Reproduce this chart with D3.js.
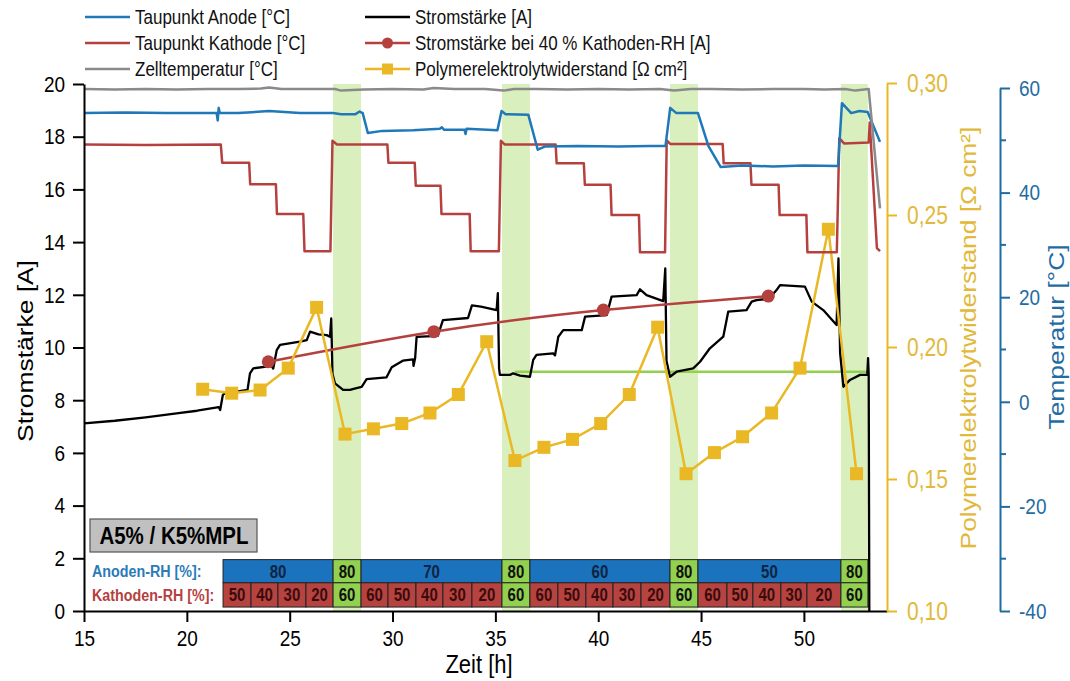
<!DOCTYPE html>
<html>
<head>
<meta charset="utf-8">
<script src="https://cdn.jsdelivr.net/npm/d3@7/dist/d3.min.js"></script>
<style>
  body { margin: 0; background: #fff; }
  svg { display: block; }
  text { font-family: "Liberation Sans", Arial, sans-serif; }
</style>
</head>
<body>
<svg id="chart" width="1070" height="681"></svg>
<script>
// ---- data -------------------------------------------------------------
// time axis ticks [h]
const zeitTicks = [15, 20, 25, 30, 35, 40, 45, 50];
const stromTicks = [0, 2, 4, 6, 8, 10, 12, 14, 16, 18, 20];
const widerstandTicks = [0.10, 0.15, 0.20, 0.25, 0.30];
const temperaturTicks = [-40, -20, 0, 20, 40, 60];
const temperaturMinorTicks = [-30, -10, 10, 30, 50];

// purge phases (cathode 60 % / anode 80 %) [h]
const spuelStart = [27.11, 35.32, 43.49, 51.80];
const spuelEnde  = [28.47, 36.68, 44.85, 53.11];

// humidity table
const anodenStart = [21.76, 27.11, 28.47, 35.32, 36.68, 43.49, 44.85, 51.80];
const anodenEnde  = [27.11, 28.47, 35.32, 36.68, 43.49, 44.85, 51.80, 53.11];
const anodenRH    = ["80", "80", "70", "80", "60", "80", "50", "80"];
const kathodenGrenzen = [21.76, 23.12, 24.43, 25.79, 27.11, 28.47, 29.78, 31.14, 32.45, 33.86,
  35.32, 36.68, 38.04, 39.40, 40.72, 42.08, 43.49, 44.85, 46.26, 47.52, 48.88, 50.15, 51.80, 53.11];
const kathodenRH = ["50", "40", "30", "20", "60",
  "60", "50", "40", "30", "20", "60",
  "60", "50", "40", "30", "20", "60",
  "60", "50", "40", "30", "20", "60"];

// cell temperature [h, °C]
const zelltemperatur = [
  [15.0, 59.8], [16.5, 59.7], [18.0, 59.8], [19.5, 59.7], [21.0, 59.8], [22.5, 59.8],
  [23.6, 59.9], [24.0, 60.1], [24.6, 59.8], [26.0, 59.8], [27.2, 59.8], [27.5, 59.5],
  [28.6, 59.7], [30.0, 59.8], [31.5, 59.7], [32.0, 60.0], [33.0, 59.8], [34.5, 59.8],
  [35.4, 59.5], [35.9, 59.8], [37.0, 59.8], [38.5, 59.7], [40.0, 59.8], [41.5, 59.7],
  [43.0, 59.8], [43.7, 59.5], [44.5, 59.8], [45.5, 59.8], [47.0, 59.7], [48.5, 59.8],
  [50.0, 59.8], [51.0, 59.7], [52.0, 59.8], [52.5, 59.5], [53.15, 59.8], [53.7, 37.0]
];

// anode dew point [h, °C]
const taupunktAnode = [
  [15.0, 55.2], [17.0, 55.3], [19.0, 55.2], [21.45, 55.2], [21.5, 53.8], [21.55, 56.2],
  [21.6, 55.2], [22.5, 55.2], [24.0, 55.6], [25.5, 55.2], [27.1, 55.2], [27.5, 55.0],
  [28.2, 55.0], [28.4, 55.5], [28.55, 55.2], [28.8, 51.4], [29.5, 51.8], [31.0, 51.9],
  [32.3, 52.2], [32.4, 52.5], [32.5, 52.0], [33.5, 52.0], [33.55, 51.2], [33.6, 52.2],
  [35.1, 51.9], [35.3, 55.6], [35.5, 55.0], [36.6, 54.9], [37.06, 48.2], [37.4, 48.8],
  [39.0, 48.9], [41.0, 48.8], [42.5, 48.9], [43.27, 48.9], [43.5, 56.2], [43.8, 55.2],
  [44.85, 55.2], [45.36, 48.9], [45.95, 44.9], [47.0, 45.2], [48.5, 45.0], [50.0, 45.2],
  [51.66, 45.1], [51.85, 57.1], [52.3, 55.2], [52.7, 55.6], [53.1, 55.4], [53.7, 49.7]
];

// cathode dew point [h, °C]
const taupunktKathode = [
  [15.0, 49.2], [18.0, 49.1], [21.65, 49.2], [21.72, 45.7], [23.03, 45.7], [23.08, 41.6],
  [24.33, 41.6], [24.38, 35.9], [25.66, 35.9], [25.72, 28.8], [26.98, 28.8], [27.08, 49.9],
  [27.3, 49.2], [29.75, 49.2], [29.8, 45.7], [31.08, 45.7], [31.13, 41.3], [32.33, 41.3],
  [32.38, 35.9], [33.75, 35.9], [33.8, 28.8], [35.17, 28.8], [35.27, 49.9], [35.45, 49.2],
  [37.93, 49.2], [37.98, 45.6], [39.3, 45.6], [39.35, 41.5], [40.6, 41.5], [40.65, 35.7],
  [41.98, 35.7], [42.03, 28.6], [43.25, 28.6], [43.33, 50.0], [43.5, 49.3], [46.05, 49.3],
  [46.1, 45.6], [47.4, 45.6], [47.45, 41.5], [48.77, 41.5], [48.82, 35.7], [50.12, 35.7],
  [50.17, 28.6], [51.6, 28.6], [51.72, 50.4], [51.95, 49.4], [53.15, 49.6], [53.2, 53.4],
  [53.55, 29.4], [53.7, 28.8]
];

// current [h, A]
const stromstaerke = [
  [15.0, 7.12], [16.5, 7.22], [18.0, 7.35], [19.5, 7.5], [20.5, 7.6], [21.55, 7.74],
  [21.62, 7.63], [21.75, 8.2], [21.85, 8.26], [22.5, 8.33], [22.95, 8.39], [23.07, 9.02],
  [23.23, 9.21], [24.12, 9.3], [24.2, 9.2], [24.37, 9.9], [24.53, 10.1], [25.5, 10.22],
  [25.83, 10.28], [25.99, 10.6], [26.4, 10.5], [26.8, 10.47], [26.96, 10.41], [27.02, 11.1],
  [27.08, 9.0], [27.2, 8.64], [27.6, 8.39], [27.93, 8.39], [28.2, 8.45], [28.5, 8.51],
  [28.74, 8.8], [29.71, 8.87], [29.96, 9.25], [30.5, 9.5], [31.0, 9.55], [31.02, 9.3],
  [31.1, 9.6], [31.17, 10.4], [32.2, 10.44], [32.45, 11.04], [33.67, 11.12], [33.86, 11.6],
  [34.3, 11.55], [35.06, 11.42], [35.12, 12.06], [35.18, 9.2], [35.22, 8.96], [35.71, 8.96],
  [35.87, 9.02], [36.2, 8.93], [36.68, 8.89], [36.84, 9.53], [37.0, 9.72], [37.81, 9.78],
  [37.9, 9.7], [38.06, 10.41], [38.3, 10.66], [39.2, 10.66], [39.36, 11.17], [40.41, 11.23],
  [40.65, 11.93], [41.87, 11.99], [42.03, 12.21], [42.35, 11.99], [43.16, 11.76], [43.26, 13.0],
  [43.32, 9.5], [43.49, 8.89], [43.81, 9.08], [44.62, 9.21], [44.95, 9.46], [45.43, 9.97],
  [46.08, 10.41], [46.32, 11.36], [47.21, 11.42], [47.46, 11.74], [47.7, 11.8], [48.3, 11.85],
  [48.67, 12.18], [48.84, 12.37], [50.05, 12.31], [50.38, 11.74], [50.94, 11.42], [51.59, 10.85],
  [51.68, 13.38], [51.76, 9.8], [51.92, 8.51], [52.24, 8.77], [52.73, 8.96], [53.08, 8.96],
  [53.12, 9.6], [53.15, 8.96], [53.18, 0]
];

// current at 40 % cathode RH [h, A]
const rh40Zeit  = [23.96, 32.01, 40.25, 48.27];
const rh40Strom = [9.46, 10.6, 11.42, 11.95];

// reference current level
const referenzZeit  = [35.95, 53.18];
const referenzStrom = [9.08, 9.08];

// membrane resistance [h, Ω cm²]
const widerstandZeit = [20.77, 22.18, 23.56, 24.93, 26.31, 27.69, 29.07, 30.45, 31.82, 33.20,
  34.58, 35.95, 37.36, 38.75, 40.12, 41.51, 42.89, 44.27, 45.65, 47.02, 48.43, 49.81, 51.19, 52.56];
const widerstand = [0.184, 0.1825, 0.1837, 0.192, 0.215, 0.167, 0.169, 0.171, 0.175, 0.182,
  0.202, 0.157, 0.162, 0.165, 0.171, 0.182, 0.2075, 0.152, 0.160, 0.166, 0.175, 0.192, 0.2446, 0.152];

// ---- colours ------------------------------------------------------------
const C = {
  anode: "#1f78b8", kathode: "#b5413f", zelle: "#8a8a8a", strom: "#000",
  gelb: "#e9b824", gelbText: "#e2b93a", tempAchse: "#1f6ca3",
  band: "#d9f0be", referenz: "#92d050",
  tabBlau: "#1b72bd", tabRot: "#b74341", tabGruen: "#92d050"
};

// glyphs of this figure are drawn slightly taller than wide
const STRETCH = 1.2;
function stretch(sel) {
  sel.each(function () {
    const t = d3.select(this);
    const tx = +t.attr("x") || 0, ty = +t.attr("y") || 0;
    t.attr("transform", `translate(${tx},${ty}) scale(1,${STRETCH}) translate(${-tx},${-ty})`);
  });
  return sel;
}
function verticalTitle(cx, cy, size, color, label) {
  svg.append("text").attr("transform", `translate(${cx},${cy}) rotate(-90) scale(${STRETCH},1)`)
    .attr("text-anchor", "middle").attr("font-size", size).attr("fill", color).text(label);
}

// ---- scales ---------------------------------------------------------------
const svg = d3.select("#chart");
const x  = d3.scaleLinear().domain([15, 54.04]).range([84, 887]);
const yA = d3.scaleLinear().domain([0, 20]).range([611, 84]);
const yR = d3.scaleLinear().domain([0.10, 0.30]).range([611, 83]);
const yT = d3.scaleLinear().domain([-40, 60]).range([611, 88]);

// ---- purge bands ----------------------------------------------------------
svg.append("g").selectAll("rect").data(spuelStart).join("rect")
  .attr("x", d => x(d)).attr("width", (d, i) => x(spuelEnde[i]) - x(d))
  .attr("y", yA(20)).attr("height", yA(0) - yA(20))
  .attr("fill", C.band);

// ---- humidity table -------------------------------------------------------
const istSpuelung = t => spuelStart.some(s => Math.abs(s - t) < 0.01);
const tab = svg.append("g").attr("font-weight", "bold").attr("font-size", 15);
const rowA = [1.95, 1.07], rowK = [1.07, 0.15];
const base = (r) => (yA(r[0]) + yA(r[1])) / 2 + 0.36 * 15 * STRETCH;
anodenStart.forEach((s, i) => {
  const e = anodenEnde[i], g = istSpuelung(s);
  tab.append("rect").attr("x", x(s)).attr("y", yA(rowA[0]))
    .attr("width", x(e) - x(s)).attr("height", yA(rowA[1]) - yA(rowA[0]))
    .attr("fill", g ? C.tabGruen : C.tabBlau).attr("stroke", "#222").attr("stroke-width", 1);
  tab.append("text").attr("x", (x(s) + x(e)) / 2).attr("y", base(rowA))
    .attr("text-anchor", "middle").attr("fill", g ? "#111" : "#0e2442").text(anodenRH[i]);
});
kathodenRH.forEach((v, i) => {
  const s = kathodenGrenzen[i], e = kathodenGrenzen[i + 1], g = istSpuelung(s);
  tab.append("rect").attr("x", x(s)).attr("y", yA(rowK[0]))
    .attr("width", x(e) - x(s)).attr("height", yA(rowK[1]) - yA(rowK[0]))
    .attr("fill", g ? C.tabGruen : C.tabRot).attr("stroke", "#222").attr("stroke-width", 1);
  tab.append("text").attr("x", (x(s) + x(e)) / 2).attr("y", base(rowK))
    .attr("text-anchor", "middle").attr("fill", g ? "#111" : "#3a0c0c").text(v);
});
tab.append("text").attr("x", 92).attr("y", base(rowA) - 0.5).attr("font-size", 14.3)
  .attr("fill", "#2a7bb8").text("Anoden-RH [%]:");
tab.append("text").attr("x", 92).attr("y", base(rowK) - 0.5).attr("font-size", 14.3)
  .attr("fill", C.kathode).text("Kathoden-RH [%]:");
stretch(tab.selectAll("text"));

// sample label box
svg.append("rect").attr("x", 90).attr("y", 519).attr("width", 167).attr("height", 33)
  .attr("fill", "#c0c0c0").attr("stroke", "#555").attr("stroke-width", 1.2);
stretch(svg.append("text").attr("x", 174).attr("y", 544.5).attr("text-anchor", "middle")
  .attr("font-weight", "bold").attr("font-size", 20.5).text("A5% / K5%MPL"));

// ---- lines ----------------------------------------------------------------
const lineA = d3.line().x(d => x(d[0])).y(d => yA(d[1]));
const lineT = d3.line().x(d => x(d[0])).y(d => yT(d[1]));

// reference level
svg.append("path").datum(referenzZeit.map((t, i) => [t, referenzStrom[i]]))
  .attr("d", lineA).attr("fill", "none").attr("stroke", C.referenz).attr("stroke-width", 2.5);

// current
svg.append("path").datum(stromstaerke).attr("d", lineA)
  .attr("fill", "none").attr("stroke", C.strom).attr("stroke-width", 2.3).attr("stroke-linejoin", "round");

// current at 40 % cathode RH
const rh40 = rh40Zeit.map((t, i) => [t, rh40Strom[i]]);
svg.append("path").datum(rh40)
  .attr("d", d3.line().x(d => x(d[0])).y(d => yA(d[1])).curve(d3.curveNatural))
  .attr("fill", "none").attr("stroke", C.kathode).attr("stroke-width", 2.5);
svg.append("g").selectAll("circle").data(rh40).join("circle")
  .attr("cx", d => x(d[0])).attr("cy", d => yA(d[1])).attr("r", 6.5).attr("fill", C.kathode);

// membrane resistance
const rw = widerstandZeit.map((t, i) => [t, widerstand[i]]);
svg.append("path").datum(rw)
  .attr("d", d3.line().x(d => x(d[0])).y(d => yR(d[1])))
  .attr("fill", "none").attr("stroke", C.gelb).attr("stroke-width", 2.5);
svg.append("g").selectAll("rect").data(rw).join("rect")
  .attr("x", d => x(d[0]) - 6.5).attr("y", d => yR(d[1]) - 6.5)
  .attr("width", 13).attr("height", 13).attr("fill", C.gelb);

// temperatures
[[taupunktKathode, C.kathode], [taupunktAnode, C.anode], [zelltemperatur, C.zelle]].forEach(([d, c]) => {
  svg.append("path").datum(d).attr("d", lineT)
    .attr("fill", "none").attr("stroke", c).attr("stroke-width", 2.5).attr("stroke-linejoin", "round");
});

// ---- axes -----------------------------------------------------------------
function styleAxis(g, color) {
  g.selectAll(".domain").attr("stroke", color).attr("stroke-width", 2);
  g.selectAll(".tick line").attr("stroke", color).attr("stroke-width", 2);
  g.selectAll(".tick text").attr("fill", color)
    .attr("font-family", "'Liberation Sans', Arial, sans-serif");
  stretch(g.selectAll(".tick text"));
}
const gx = svg.append("g").attr("transform", `translate(0,${yA(0)})`)
  .call(d3.axisBottom(x).tickValues(zeitTicks).tickSize(11).tickSizeOuter(0).tickPadding(8))
  .attr("font-size", 19);
styleAxis(gx, "#000");

const gy = svg.append("g").attr("transform", `translate(${x(15)},0)`)
  .call(d3.axisLeft(yA).tickValues(stromTicks).tickSize(11).tickSizeOuter(0).tickPadding(8))
  .attr("font-size", 19);
styleAxis(gy, "#000");

const gr = svg.append("g").attr("transform", "translate(887,0)")
  .call(d3.axisRight(yR).tickValues(widerstandTicks).tickSize(10).tickSizeOuter(0).tickPadding(10)
    .tickFormat(d => d.toFixed(2).replace(".", ",")))
  .attr("font-size", 21);
styleAxis(gr, C.gelbText);
gr.selectAll(".domain").attr("stroke", C.gelb);
gr.selectAll(".tick line").attr("stroke", C.gelb);

const gt = svg.append("g").attr("transform", "translate(1000,0)")
  .call(d3.axisRight(yT).tickValues(temperaturTicks).tickSize(10).tickSizeOuter(0).tickPadding(9)
    .tickFormat(d => String(d)))
  .attr("font-size", 19);
styleAxis(gt, C.tempAchse);
gt.selectAll(".minor").data(temperaturMinorTicks).join("line").attr("class", "minor")
  .attr("x1", 0).attr("x2", 6).attr("y1", d => yT(d)).attr("y2", d => yT(d))
  .attr("stroke", C.tempAchse).attr("stroke-width", 2);

// axis titles
verticalTitle(33, 351, 22, "#000", "Stromstärke [A]");
stretch(svg.append("text").attr("x", 479).attr("y", 673)
  .attr("text-anchor", "middle").attr("font-size", 22).text("Zeit [h]"));
verticalTitle(976, 338, 22, C.gelbText, "Polymerelektrolytwiderstand [Ω cm²]");
verticalTitle(1064, 337, 22, C.tempAchse, "Temperatur [°C]");

// ---- legend ---------------------------------------------------------------
const legende = [
  { col: 0, row: 0, text: "Taupunkt Anode [°C]", color: C.anode },
  { col: 0, row: 1, text: "Taupunkt Kathode [°C]", color: C.kathode },
  { col: 0, row: 2, text: "Zelltemperatur [°C]", color: C.zelle },
  { col: 1, row: 0, text: "Stromstärke [A]", color: C.strom },
  { col: 1, row: 1, text: "Stromstärke bei 40 % Kathoden-RH [A]", color: C.kathode, marker: "circle" },
  { col: 1, row: 2, text: "Polymerelektrolytwiderstand [Ω cm²]", color: C.gelb, marker: "square" }
];
const lg = svg.append("g").attr("font-size", 17);
legende.forEach(l => {
  const x0 = l.col ? 365 : 85, yy = 17 + l.row * 26;
  lg.append("line").attr("x1", x0).attr("x2", x0 + 45).attr("y1", yy).attr("y2", yy)
    .attr("stroke", l.color).attr("stroke-width", 2.5);
  if (l.marker === "circle") lg.append("circle").attr("cx", x0 + 22.5).attr("cy", yy).attr("r", 5.5).attr("fill", l.color);
  if (l.marker === "square") lg.append("rect").attr("x", x0 + 17).attr("y", yy - 5.5).attr("width", 11).attr("height", 11).attr("fill", l.color);
  lg.append("text").attr("x", x0 + 50).attr("y", yy + 7.5).attr("fill", "#111").text(l.text);
});
stretch(lg.selectAll("text"));
</script>
</body>
</html>
